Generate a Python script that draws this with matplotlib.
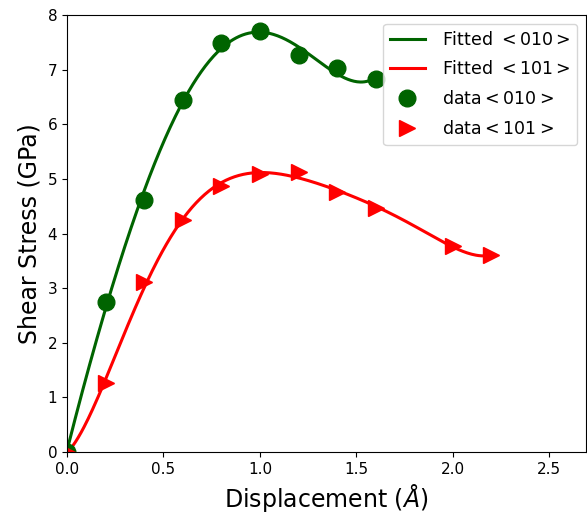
import numpy as np
import matplotlib
matplotlib.use('Agg')
import matplotlib.pyplot as plt

# data
x_010 = [0.0, 0.2, 0.4, 0.6, 0.8, 1.0, 1.2, 1.4, 1.6]
y_010 = [0.0, 2.74, 4.62, 6.44, 7.48, 7.70, 7.27, 7.03, 6.83]
x_101 = [0.0, 0.2, 0.4, 0.6, 0.8, 1.0, 1.2, 1.4, 1.6, 2.0, 2.2]
y_101 = [0.0, 1.26, 3.11, 4.25, 4.87, 5.09, 5.12, 4.76, 4.47, 3.77, 3.60]

fig = plt.figure(figsize=(5.87, 5.18), dpi=100)
ax = fig.add_axes([67 / 587, 66 / 518, 519 / 587, 437 / 518])

# polynomial fits of the points
for xd, yd, c, lab, deg in [(x_010, y_010, '#006400', r'Fitted $<010>$', 5),
                            (x_101, y_101, 'red', r'Fitted $<101>$', 6)]:
    p = np.polyfit(xd, yd, deg)
    xs = np.linspace(xd[0], xd[-1], 300)
    ax.plot(xs, np.polyval(p, xs), color=c, lw=2.2, label=lab)

ax.plot(x_010, y_010, 'o', color='#006400', ms=12, label=r'data$<010>$')
ax.plot(x_101, y_101, '>', color='red', ms=12, label=r'data$<101>$')

ax.set_xlim(0, 2.69)
ax.set_ylim(0, 8)
ax.tick_params(labelsize=11)
ax.set_xlabel(r'Displacement ($\AA$)', fontsize=17)
ax.set_ylabel('Shear Stress (GPa)', fontsize=17)
ax.legend(loc='upper right', fontsize=12.5, labelspacing=0.68, handletextpad=1.0)

fig.savefig('out.png', dpi=100)
